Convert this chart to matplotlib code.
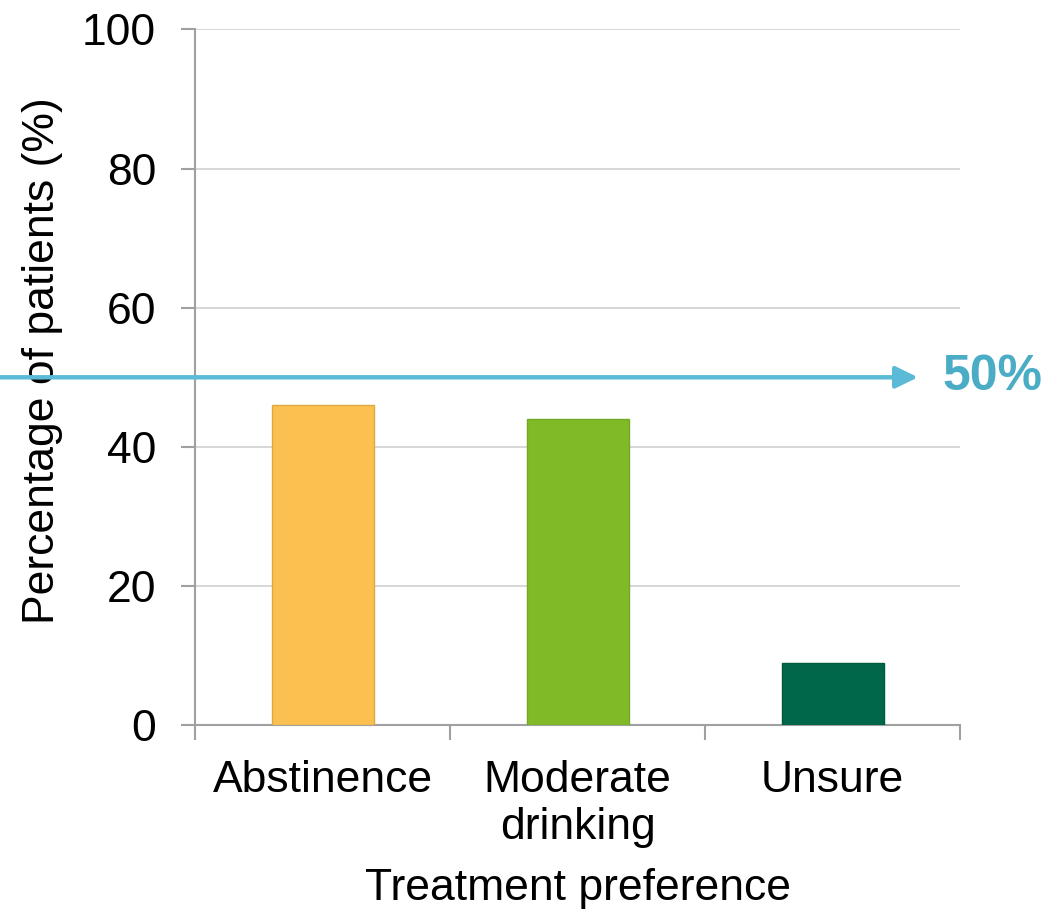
import matplotlib
matplotlib.use("Agg")
import matplotlib.pyplot as plt
from matplotlib.ticker import FixedLocator

plt.rcParams['font.family'] = ['Liberation Sans', 'DejaVu Sans']

categories = ["Abstinence", "Moderate\ndrinking", "Unsure"]
values = [46, 44, 9]
colors = ["#FBC04F", "#80BA27", "#00674A"]
edge_colors = ["#E0A840", "#74A824", "#005A40"]
yticks = [0, 20, 40, 60, 80, 100]
threshold = 50
threshold_label = "50%"

fig = plt.figure(figsize=(10.49, 9.13), dpi=100)
ax = fig.add_axes([0.1859, 0.2056, 0.7293, 0.7623])

x = list(range(len(categories)))
ax.bar(x, values, width=0.4, color=colors, edgecolor=edge_colors, linewidth=1, zorder=3)

ax.set_xlim(-0.5, len(categories) - 0.5)
ax.set_ylim(0, 100)
ax.set_yticks(yticks)
ax.set_yticklabels([str(t) for t in yticks])
ax.yaxis.grid(True, color="#D4D4D4", linewidth=1.3, zorder=0)

ax.set_xticks(x)
ax.set_xticklabels(categories, linespacing=1.2)
ax.xaxis.set_minor_locator(FixedLocator([i - 0.5 for i in range(len(categories) + 1)]))
ax.tick_params(axis='x', which='major', length=0, pad=25, labelsize=32)
ax.tick_params(axis='x', which='minor', length=11, width=1.5, color="#A0A0A0")
ax.tick_params(axis='y', length=10, width=1.5, color="#A0A0A0", pad=18, labelsize=32)

for side in ("top", "right"):
    ax.spines[side].set_visible(False)
for side in ("left", "bottom"):
    ax.spines[side].set_color("#A0A0A0")
    ax.spines[side].set_linewidth(1.5)

ax.set_ylabel("Percentage of patients (%)", fontsize=32, labelpad=14)
ax.yaxis.label.set_y(0.524)
ax.set_xlabel("Treatment preference", fontsize=32, labelpad=14)

# Threshold arrow spanning from the figure edge across the plot
ax.annotate("", xy=(918 / 1049, threshold), xytext=(0, threshold),
            xycoords=("figure fraction", "data"), textcoords=("figure fraction", "data"),
            arrowprops=dict(arrowstyle="-|>,head_length=0.45,head_width=0.22",
                            color="#5BBAD5", lw=3.2, mutation_scale=30, shrinkA=0, shrinkB=0),
            annotation_clip=False, zorder=5)
ax.annotate(threshold_label, xy=(942 / 1049, threshold), xycoords=("figure fraction", "data"),
            ha="left", va="center", fontsize=36, fontweight="bold", color="#4BACC6",
            annotation_clip=False)

fig.savefig("out.png", dpi=100)
